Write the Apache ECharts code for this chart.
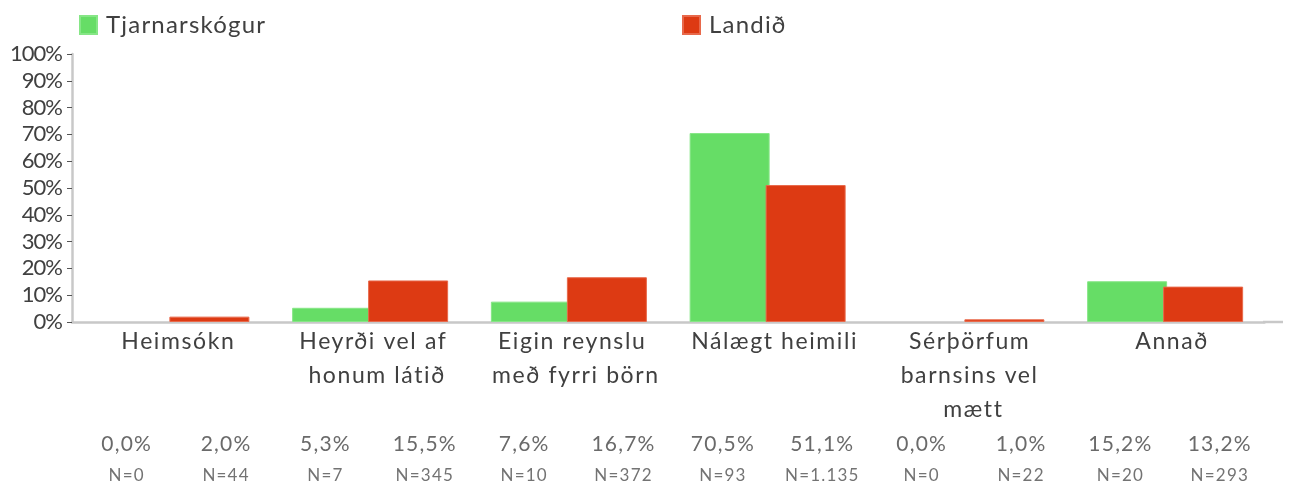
<!DOCTYPE html>
<html>
<head>
<meta charset="utf-8">
<script src="https://cdn.jsdelivr.net/npm/echarts@6/dist/echarts.min.js"></script>
<style>
  html, body { margin: 0; padding: 0; background: #ffffff; }
  #chart { width: 1290px; height: 488px; }
</style>
</head>
<body>
<div id="chart"></div>
<script>
// ---- data ----
const categories = ['Heimsókn', 'Heyrði vel af honum látið', 'Eigin reynslu með fyrri börn', 'Nálægt heimili', 'Sérþörfum barnsins vel mætt', 'Annað'];
const seriesNames = ['Tjarnarskógur', 'Landið'];
const tjarnarskogur = [0.0, 5.3, 7.6, 70.5, 0.0, 15.2];
const landid = [2.0, 15.5, 16.7, 51.1, 1.0, 13.2];
const nTjarnarskogur = [0, 7, 10, 93, 0, 20];
const nLandid = [44, 345, 372, 1135, 22, 293];
const yTicks = [0, 10, 20, 30, 40, 50, 60, 70, 80, 90, 100];

// ---- letter spacing helper (styling only) ----
(function () {
  const proto = CanvasRenderingContext2D.prototype;
  const orig = proto.fillText;
  proto.fillText = function (t, x, y, w) {
    const f = this.font || '';
    let ls = '0px';
    if (f.indexOf('Roboto') >= 0) ls = '1.6px';
    else if (f.indexOf('Inter') >= 0) ls = '-1px';
    else if (f.indexOf('Open Sans') >= 0) ls = '1.2px';
    if ('letterSpacing' in this) this.letterSpacing = ls;
    return w === undefined ? orig.call(this, t, x, y) : orig.call(this, t, x, y, w);
  };
})();

const fmtPct = v => v.toFixed(1).replace('.', ',') + '%';
const fmtN = v => 'N=' + String(v).replace(/\B(?=(\d{3})+(?!\d))/g, '.');

const bottomLabels = [];
categories.forEach((c, i) => {
  bottomLabels.push(fmtPct(tjarnarskogur[i]) + '\n' + fmtN(nTjarnarskogur[i]));
  bottomLabels.push(fmtPct(landid[i]) + '\n' + fmtN(nLandid[i]));
});

// zero-height bars get no outline
const barItems = arr => arr.map(v => v === 0 ? { value: v, itemStyle: { borderWidth: 0 } } : v);

const GREEN = '#66dd66', GREEN_B = '#86e686';
const RED = '#dd3a13', RED_B = '#e8694b';

const chart = echarts.init(document.getElementById('chart'), null, { renderer: 'canvas' });
chart.setOption({
  animation: false,
  backgroundColor: '#ffffff',
  legend: [
    {
      data: [seriesNames[0]], left: 79, top: 13, padding: 0,
      itemWidth: 17, itemHeight: 18, icon: 'rect',
      textStyle: { fontFamily: 'Lato, "Open Sans"', fontSize: 24, color: '#404040', padding: [0, 0, 0, 4] }
    },
    {
      data: [seriesNames[1]], left: 682, top: 13, padding: 0,
      itemWidth: 17, itemHeight: 18, icon: 'rect',
      textStyle: { fontFamily: 'Lato, "Open Sans"', fontSize: 24, color: '#404040', padding: [0, 0, 0, 4] }
    }
  ],
  grid: { left: 72, right: 25.5, top: 54, bottom: 166 },
  xAxis: [
    {
      type: 'category',
      data: categories,
      axisLine: { show: true, lineStyle: { color: '#c8c8c8', width: 2.5 } },
      axisTick: { show: false },
      axisLabel: {
        interval: 0, margin: 3,
        fontFamily: 'Lato, Roboto', fontSize: 23, color: '#404040',
        lineHeight: 34, width: 168, overflow: 'break',
        padding: [0, 0, 0, 14]
      }
    },
    {
      type: 'category',
      data: bottomLabels,
      position: 'bottom',
      offset: 100,
      axisLine: { show: false },
      axisTick: { show: false },
      axisLabel: {
        interval: 0, margin: 6,
        padding: [0, 0, 0, 10],
        formatter: v => {
          const parts = v.split('\n');
          return '{p|' + parts[0] + '}\n{n|' + parts[1] + '}';
        },
        rich: {
          p: { fontFamily: 'Lato, "Open Sans"', fontSize: 21, color: '#6a6a6a', lineHeight: 32 },
          n: { fontFamily: 'Lato, "Open Sans"', fontSize: 17, color: '#737373', lineHeight: 32 }
        }
      }
    }
  ],
  yAxis: {
    type: 'value',
    min: yTicks[0], max: yTicks[yTicks.length - 1], interval: 10,
    axisLine: { show: true, lineStyle: { color: '#c8c8c8', width: 2.5 } },
    axisTick: { show: true, length: 5, lineStyle: { color: '#555555', width: 1 } },
    splitLine: { show: false },
    axisLabel: {
      margin: 10,
      formatter: '{value}%',
      fontFamily: 'Lato, Inter', fontSize: 22, color: '#404040'
    }
  },
  graphic: [
    {
      type: 'line', z: 10,
      shape: { x1: 1263, y1: 322, x2: 1283, y2: 322 },
      style: { stroke: '#c8c8c8', lineWidth: 2.5 }
    }
  ],
  series: [
    {
      name: seriesNames[0], type: 'bar', data: barItems(tjarnarskogur),
      barWidth: 80, barGap: '-5%',
      itemStyle: { color: GREEN, borderColor: GREEN_B, borderWidth: 1 }
    },
    {
      name: seriesNames[1], type: 'bar', data: barItems(landid),
      barWidth: 80, barGap: '-5%',
      itemStyle: { color: RED, borderColor: RED_B, borderWidth: 1 }
    }
  ]
});
</script>
</body>
</html>
